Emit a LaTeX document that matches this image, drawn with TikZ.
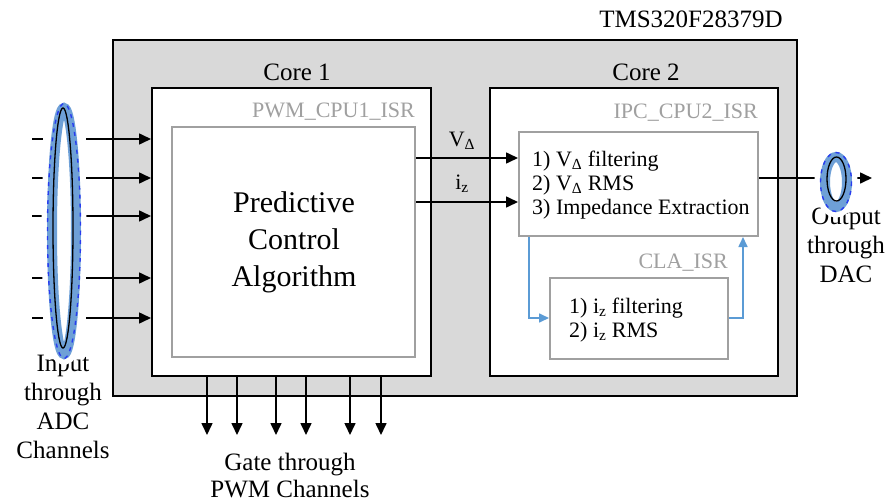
\documentclass[tikz,border=0pt]{standalone}
\usepackage{fontspec}
\setmainfont{Liberation Serif}
\usetikzlibrary{arrows.meta,calc}

\definecolor{chipgray}{RGB}{217,217,217}
\definecolor{isrgray}{RGB}{160,160,160}
\definecolor{claBlue}{RGB}{91,155,213}
\definecolor{haloBlue}{RGB}{110,160,215}
\definecolor{dashBlue}{RGB}{40,60,240}

\tikzset{
  lbl/.style={font=\fontsize{25}{29}\selectfont, inner sep=0pt, align=center},
  small/.style={font=\fontsize{22}{24}\selectfont, inner sep=0pt, align=left},
  isrlbl/.style={font=\fontsize{22}{24}\selectfont, inner sep=0pt, text=isrgray},
  chipbox/.style={draw=black, fill=chipgray, line width=2pt, inner sep=0pt},
  corebox/.style={draw=black, fill=white, line width=2pt, inner sep=0pt},
  isrbox/.style={draw=isrgray, fill=white, line width=2pt, inner sep=0pt},
  arr/.style={line width=1.6pt, -{Triangle[length=12pt,width=11pt]}},
  bluearr/.style={draw=claBlue, line width=1.6pt, -{Triangle[length=10pt,width=9pt]}},
  plain/.style={line width=1.6pt},
  halo/.style={draw=haloBlue, line width=10pt},
  halodash/.style={draw=dashBlue, line width=1.4pt, dash pattern=on 4pt off 5pt},
  halowhite/.style={draw=white, fill=white, line width=21pt},
  ring/.style={draw=black, line width=1.3pt}
}

\begin{document}
\begin{tikzpicture}[x=1pt,y=-1pt]
\useasboundingbox[fill=white] (0,0) rectangle (888,503);

% chip and cores
\node[chipbox, minimum width=684pt, minimum height=356pt] (chip) at (455,218) {};
\node[lbl, anchor=center] (chipname) at (691,19) {TMS320F28379D};

\node[corebox, minimum width=279pt, minimum height=288pt] (core1) at (291.5,232) {};
\node[corebox, minimum width=288pt, minimum height=288pt] (core2) at (634,232) {};
\node[lbl] (core1lbl) at (297,72) {Core 1};
\node[lbl] (core2lbl) at (646,72) {Core 2};

% interrupt service routines
\node[isrbox, minimum width=243pt, minimum height=230pt] (pwm) at (293.5,242) {};
\node[isrlbl, anchor=east] (pwmlbl) at (415,112) {PWM\_CPU1\_ISR};
\node[font=\fontsize{30}{37}\selectfont, inner sep=0pt, align=center] (pca) at (294,242)
  {Predictive\\Control\\Algorithm};

\node[isrbox, minimum width=239pt, minimum height=104pt] (ipc) at (638.5,184) {};
\node[isrlbl, anchor=east] (ipclbl) at (758,113) {IPC\_CPU2\_ISR};
\node[small, anchor=west] (ipctxt) at (532,185)
  {1) V\textsubscript{Δ} filtering\\2) V\textsubscript{Δ} RMS\\3) Impedance Extraction};

\node[isrbox, minimum width=178pt, minimum height=81pt] (cla) at (639,318.5) {};
\node[isrlbl, anchor=east] (clalbl) at (728,263) {CLA\_ISR};
\node[small, anchor=west] (clatxt) at (569,320)
  {1) i\textsubscript{z} filtering\\2) i\textsubscript{z} RMS};

% signals between the cores
\coordinate (vy) at (0,158);
\coordinate (iy) at (0,202);
\draw[arr] (pwm.east |- vy) -- (ipc.west |- vy);
\draw[arr] (pwm.east |- iy) -- (ipc.west |- iy);
\node[font=\fontsize{22}{24}\selectfont, inner sep=0pt] (vlbl) at (462,141) {V\textsubscript{Δ}};
\node[font=\fontsize{22}{24}\selectfont, inner sep=0pt] (ilbl) at (462,184) {i\textsubscript{z}};

% IPC <-> CLA hand-over
\coordinate (bx1) at (529,0);
\coordinate (bx2) at (743,0);
\coordinate (by) at (0,318);
\draw[bluearr] (ipc.south -| bx1) |- (cla.west |- by);
\draw[bluearr] (cla.east |- by) -| (ipc.south -| bx2);

% DAC output
\coordinate (outy) at (0,178);
\coordinate (outend) at (872,178);
\draw[arr] (ipc.east |- outy) -- (outend);
\node[lbl] (outlbl) at (846,245) {Output\\through\\DAC};
\draw[halowhite] (836,182) ellipse [x radius=11, y radius=25];
\draw[halo] (836,182) ellipse [x radius=11, y radius=25];
\draw[halodash] (836,182) ellipse [x radius=15.5, y radius=29.5];
\draw[ring] (836.5,179) ellipse [x radius=9.5, y radius=22];

% ADC inputs
\node[lbl] (inlbl) at (63,407) {Input\\through\\ADC\\Channels};
\foreach \k/\yy in {1/139,2/178,3/216,4/278,5/318}{
  \coordinate (d\k a) at (32,\yy);
  \coordinate (d\k b) at (43,\yy);
  \coordinate (s\k) at (86,\yy);
  \draw[plain] (d\k a) -- (d\k b);
  \draw[arr] (s\k) -- (core1.west |- s\k);
}
\draw[halowhite] (64,231) ellipse [x radius=12, y radius=123];
\draw[halo] (64,231) ellipse [x radius=12, y radius=123];
\draw[halodash] (64,231) ellipse [x radius=16.5, y radius=127.5];
\draw[ring] (63,228) ellipse [x radius=10, y radius=120];

% PWM gate outputs
\foreach \k/\xx in {1/207,2/237,3/276,4/306,5/350,6/381}{
  \coordinate (g\k) at (\xx,435);
  \draw[arr] (core1.south -| g\k) -- (g\k);
}
\node[font=\fontsize{25}{27}\selectfont, inner sep=0pt, align=center] (gatelbl) at (290,476)
  {Gate through\\PWM Channels};
\end{tikzpicture}
\end{document}
